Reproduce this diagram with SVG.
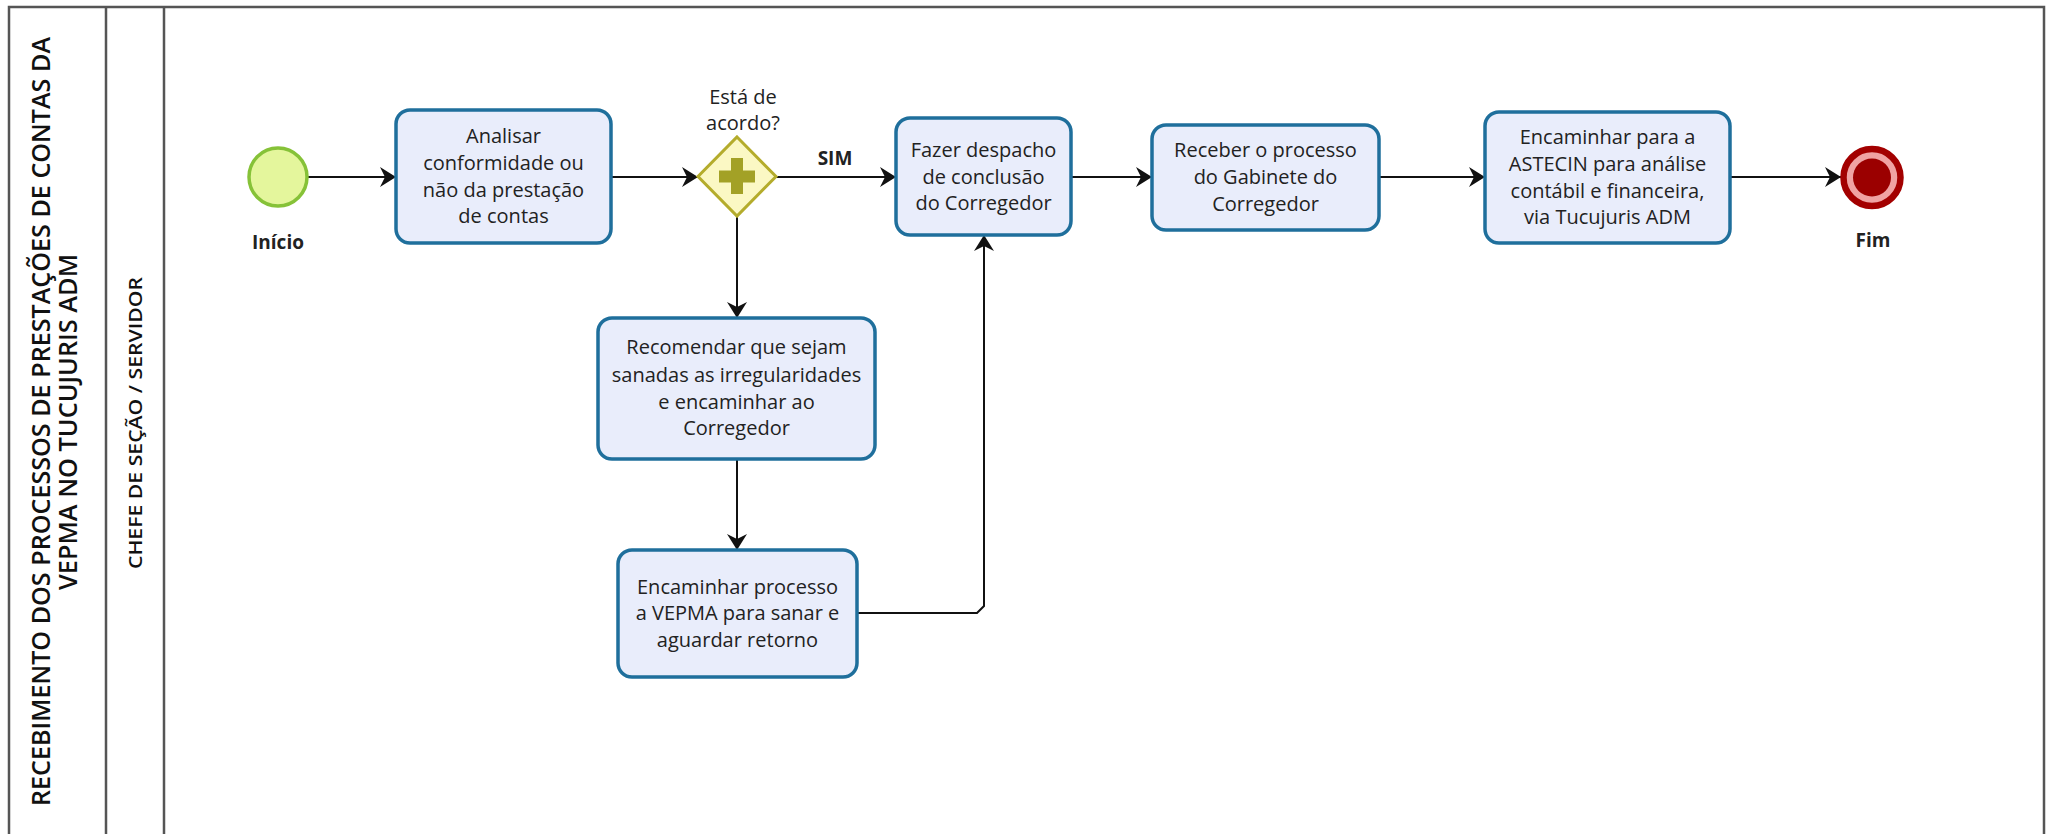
<svg xmlns="http://www.w3.org/2000/svg" width="2051" height="834" viewBox="0 0 2051 834">
<defs>
<style>
.lane{fill:none;stroke:#555;stroke-width:2.5}
.task{fill:#e9edfb;stroke:#1f6f9c;stroke-width:3.5}
.tt{font-family:"Open Sans","Noto Sans",sans-serif;font-size:20px;fill:#222;text-anchor:middle}
.lbl{font-family:"Open Sans","Noto Sans",sans-serif;font-size:19px;font-weight:700;fill:#222;text-anchor:middle}
.hdr{font-family:"Open Sans","Noto Sans",sans-serif;font-weight:600;fill:#111;text-anchor:middle}
.flow{fill:none;stroke:#111;stroke-width:2}
</style>
<marker id="arr" markerUnits="userSpaceOnUse" markerWidth="17" markerHeight="20" refX="16" refY="10" orient="auto">
<path d="M0,0 L16,10 L0,20 L5,10 z" fill="#111"/>
</marker>
</defs>
<rect width="2051" height="834" fill="#ffffff"/>
<g id="pool">
<path class="lane" d="M9,834 L9,7 L2044,7 L2044,834"/>
<line class="lane" x1="106" y1="7" x2="106" y2="834" stroke="#777"/>
<line class="lane" x1="164" y1="7" x2="164" y2="834" stroke="#777"/>
<text class="hdr" font-size="25" transform="translate(50,421.5) rotate(-90)" textLength="769" lengthAdjust="spacingAndGlyphs">RECEBIMENTO DOS PROCESSOS DE PRESTAÇÕES DE CONTAS DA</text>
<text class="hdr" font-size="25" transform="translate(77,422) rotate(-90)" textLength="336" lengthAdjust="spacingAndGlyphs">VEPMA NO TUCUJURIS ADM</text>
<text class="hdr" font-size="18" font-weight="700" transform="translate(142,423) rotate(-90)" textLength="292" lengthAdjust="spacingAndGlyphs">CHEFE DE SEÇÃO / SERVIDOR</text>
</g>
<g id="connectors">
<line class="flow" x1="308" y1="177" x2="396" y2="177" marker-end="url(#arr)"/>
<line class="flow" x1="611" y1="177" x2="698" y2="177" marker-end="url(#arr)"/>
<line class="flow" x1="776" y1="177" x2="896" y2="177" marker-end="url(#arr)"/>
<text class="lbl" x="835" y="165">SIM</text>
<line class="flow" x1="737" y1="216" x2="737" y2="318" marker-end="url(#arr)"/>
<line class="flow" x1="737" y1="459" x2="737" y2="550" marker-end="url(#arr)"/>
<path class="flow" d="M857,613 L977,613 L984,606 L984,235" marker-end="url(#arr)"/>
<line class="flow" x1="1071" y1="177" x2="1152" y2="177" marker-end="url(#arr)"/>
<line class="flow" x1="1379" y1="177" x2="1485" y2="177" marker-end="url(#arr)"/>
<line class="flow" x1="1730" y1="177" x2="1841" y2="177" marker-end="url(#arr)"/>
</g>
<g id="inicio">
<circle cx="278" cy="177" r="29" fill="#e4f69c" stroke="#86c238" stroke-width="3.5"/>
<text class="lbl" x="278" y="249">Início</text>
</g>
<g id="analisar">
<rect class="task" x="396" y="110" width="215" height="133" rx="14"/>
<text class="tt" x="503.5" y="143">Analisar</text>
<text class="tt" x="503.5" y="170">conformidade ou</text>
<text class="tt" x="503.5" y="197">não da prestação</text>
<text class="tt" x="503.5" y="223">de contas</text>
</g>
<g id="gateway">
<text class="tt" x="743" y="104">Está de</text>
<text class="tt" x="743" y="130">acordo?</text>
<path d="M737,137 L776,176.5 L737,216 L698,176.5 z" fill="#fbf8c4" stroke="#b4ac2c" stroke-width="3"/>
<path d="M731,158 h12 v12.5 h12 v12 h-12 v11.5 h-12 v-11.5 h-12 v-12 h12 z" fill="#a3a126"/>
</g>
<g id="fazer">
<rect class="task" x="896" y="118" width="175" height="117" rx="14"/>
<text class="tt" x="983.5" y="157">Fazer despacho</text>
<text class="tt" x="983.5" y="184">de conclusão</text>
<text class="tt" x="983.5" y="210">do Corregedor</text>
</g>
<g id="receber">
<rect class="task" x="1152" y="125" width="227" height="105" rx="14"/>
<text class="tt" x="1265.5" y="157">Receber o processo</text>
<text class="tt" x="1265.5" y="184">do Gabinete do</text>
<text class="tt" x="1265.5" y="211">Corregedor</text>
</g>
<g id="astecin">
<rect class="task" x="1485" y="112" width="245" height="131" rx="14"/>
<text class="tt" x="1607.5" y="144">Encaminhar para a</text>
<text class="tt" x="1607.5" y="171">ASTECIN para análise</text>
<text class="tt" x="1607.5" y="198">contábil e financeira,</text>
<text class="tt" x="1607.5" y="224">via Tucujuris ADM</text>
</g>
<g id="fim">
<circle cx="1872" cy="177.5" r="28.5" fill="#f0a3a3" stroke="#a30000" stroke-width="6.5"/>
<circle cx="1872" cy="177.5" r="19" fill="#9b0000"/>
<text class="lbl" x="1873" y="247">Fim</text>
</g>
<g id="recomendar">
<rect class="task" x="598" y="318" width="277" height="141" rx="14"/>
<text class="tt" x="736.5" y="354">Recomendar que sejam</text>
<text class="tt" x="736.5" y="382">sanadas as irregularidades</text>
<text class="tt" x="736.5" y="409">e encaminhar ao</text>
<text class="tt" x="736.5" y="435">Corregedor</text>
</g>
<g id="encaminhar">
<rect class="task" x="618" y="550" width="239" height="127" rx="14"/>
<text class="tt" x="737.5" y="594">Encaminhar processo</text>
<text class="tt" x="737.5" y="620">a VEPMA para sanar e</text>
<text class="tt" x="737.5" y="647">aguardar retorno</text>
</g>
</svg>
